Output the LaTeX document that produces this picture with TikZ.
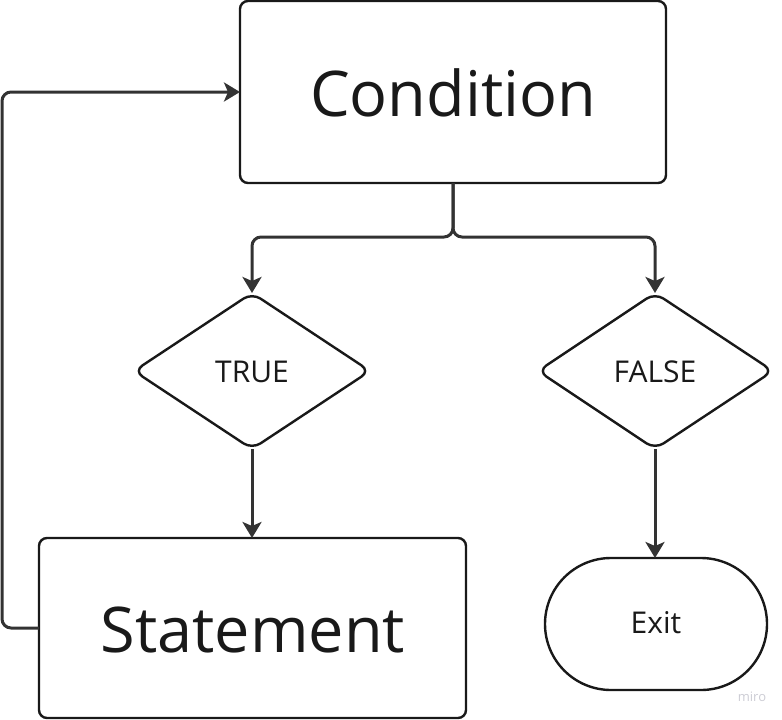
\documentclass[tikz,border=0pt]{standalone}
\usepackage{fontspec}
\setmainfont{Open Sans}
\usetikzlibrary{arrows.meta}
\begin{document}
\begin{tikzpicture}[x=1pt,y=-1pt,
  box/.style={draw=black!90, line width=2.4pt, rounded corners=8pt},
  flow/.style={draw=black!80, line width=3pt, rounded corners=9pt,
    -{Stealth[length=16pt,width=19pt,inset=4pt]}},
  lbl/.style={inner sep=0pt, text=black!90}]
\useasboundingbox (0,0) rectangle (782,720);
% process boxes
\draw[box] (240,1) rectangle (666,183);
\node[lbl, font=\fontsize{63}{68}\selectfont] (cond) at (453,93) {Condition};
\coordinate (condS) at (453,183);
\coordinate (condW) at (240,92);
\draw[box] (39,538) rectangle (466,718);
\node[lbl, font=\fontsize{63}{68}\selectfont] (stmt) at (253,630) {Statement};
\coordinate (stmtN) at (252,538);
\coordinate (stmtW) at (39,628);
% decision diamonds
\draw[box, rounded corners=10pt] (252,293) -- (370,371) -- (252,449) -- (134,371) -- cycle;
\node[lbl, font=\fontsize{30}{34}\selectfont] (true) at (252,372) {TRUE};
\coordinate (trueN) at (252,293);
\coordinate (trueS) at (252,449);
\draw[box, rounded corners=10pt] (655,293) -- (773,371) -- (655,449) -- (538,371) -- cycle;
\node[lbl, font=\fontsize{30}{34}\selectfont] (false) at (655,372) {FALSE};
\coordinate (falseN) at (655,293);
\coordinate (falseS) at (655,449);
% terminal
\draw[box, rounded corners=66pt] (545,558) rectangle (767,690);
\node[lbl, font=\fontsize{30}{34}\selectfont] (exit) at (656,623) {Exit};
\coordinate (exitN) at (655,558);
% connectors
\draw[flow] (condS) -- (453,237) -| (trueN);
\draw[flow] (condS) -- (453,237) -| (falseN);
\draw[flow] (trueS) -- (stmtN);
\draw[flow] (falseS) -- (exitN);
\draw[flow] (stmtW) -- (2,628) -- (2,92) -- (condW);
% watermark
\node[text=blue!15!black!20, font=\fontsize{13}{14}\selectfont] (miro) at (752,697) {miro};
\end{tikzpicture}
\end{document}
